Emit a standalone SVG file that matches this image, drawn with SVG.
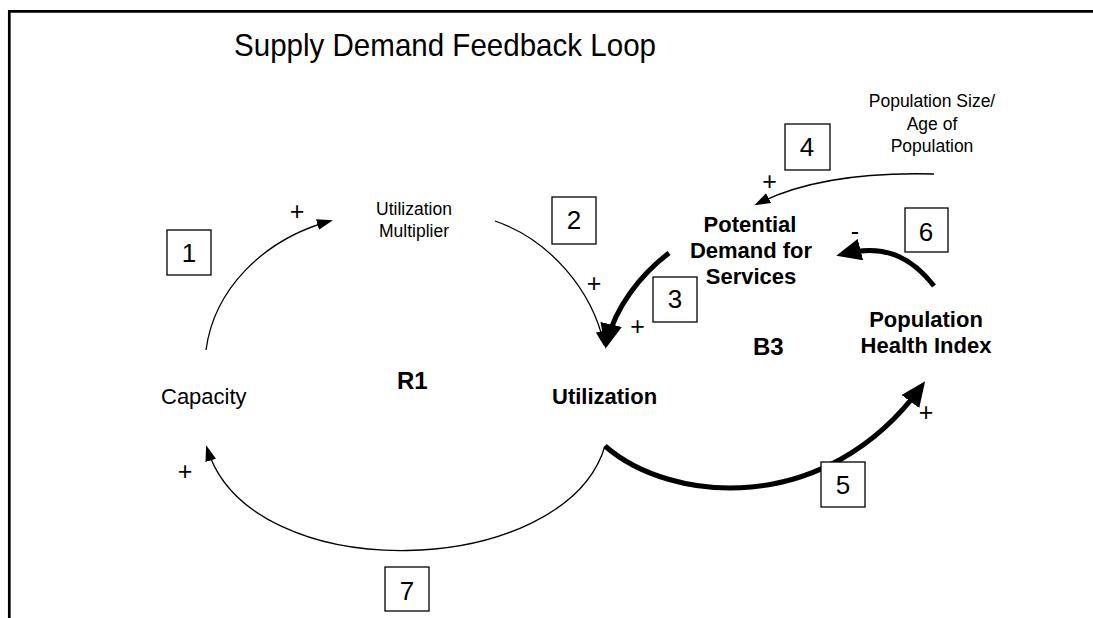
<svg xmlns="http://www.w3.org/2000/svg" width="1093" height="618" viewBox="0 0 1093 618">
<defs>
<style>
text{font-family:"Liberation Sans",Arial,sans-serif;fill:#000}
.lbl{font-size:17.5px;text-anchor:middle}
.cap{font-size:22px}
.bold{font-size:22px;font-weight:bold}
.big{font-size:24px;font-weight:bold}
.num{font-size:26px;text-anchor:middle}
.sign{font-size:25px;text-anchor:middle}
.box{fill:#fff;stroke:#000;stroke-width:1.3}
.thin{fill:none;stroke:#000;stroke-width:1.3;marker-end:url(#hs)}
.thick{fill:none;stroke:#000;stroke-width:5;marker-end:url(#hl)}
</style>
<marker id="hs" markerUnits="userSpaceOnUse" markerWidth="16" markerHeight="12" refX="13" refY="5.5" orient="auto" viewBox="0 0 16 11">
<path d="M0,0 L16,5.5 L0,11 z" fill="#000"/>
</marker>
<marker id="hl" markerUnits="userSpaceOnUse" markerWidth="25" markerHeight="22" refX="18" refY="11" orient="auto" viewBox="0 0 25 22">
<path d="M0,0 L25,11 L0,22 z" fill="#000"/>
</marker>
</defs>
<rect width="1093" height="618" fill="#fff"/>
<g id="frame">
<path d="M9.3,618 V11.3 H1093" fill="none" stroke="#000" stroke-width="2.7"/>
</g>
<g id="title"><text x="234" y="56" font-size="32" textLength="422" lengthAdjust="spacingAndGlyphs">Supply Demand Feedback Loop</text></g>

<g id="connectors">
<path id="c1" class="thin" d="M206,350 C214,290 262,240 330,221"/>
<path id="c2" class="thin" d="M495,221 C550,240 592,290 604,344"/>
<path id="c3" class="thick" d="M669,253 C640,275 615,308 607,342"/>
<path id="c4" class="thin" d="M934,174 C860,172 800,182 757,204"/>
<path id="c6" class="thick" d="M934,286 C910,255 882,244 843,254"/>
<path id="c5" class="thick" d="M605,446 C670,503 825,518 921,387"/>
<path id="c7" class="thin" d="M605,446 C565,580 250,590 207,448"/>
</g>

<g id="node-utilization-multiplier">
<text class="lbl" x="414" y="215">Utilization</text>
<text class="lbl" x="414" y="237">Multiplier</text>
</g>
<g id="node-capacity"><text class="cap" x="161" y="404">Capacity</text></g>
<g id="node-utilization"><text class="bold" x="552" y="404">Utilization</text></g>
<g id="node-potential-demand">
<text class="bold" x="750" y="232" text-anchor="middle">Potential</text>
<text class="bold" x="751" y="258" text-anchor="middle">Demand for</text>
<text class="bold" x="751" y="284" text-anchor="middle">Services</text>
</g>
<g id="node-population-health">
<text class="bold" x="926" y="327" text-anchor="middle">Population</text>
<text class="bold" x="926" y="353" text-anchor="middle">Health Index</text>
</g>
<g id="node-population-size">
<text class="lbl" x="932" y="107">Population Size/</text>
<text class="lbl" x="932" y="130">Age of</text>
<text class="lbl" x="932" y="152">Population</text>
</g>
<g id="loop-r1"><text class="big" x="397" y="389">R1</text></g>
<g id="loop-b3"><text class="big" x="753" y="355">B3</text></g>

<g id="signs">
<text class="sign" x="297" y="220">+</text>
<text class="sign" x="594" y="292">+</text>
<text class="sign" x="637.5" y="335">+</text>
<text class="sign" x="769.5" y="190">+</text>
<text class="sign" x="926" y="421">+</text>
<text class="sign" x="185" y="480">+</text>
<text class="sign" x="855" y="240">-</text>
</g>

<g id="box1"><rect class="box" x="167" y="230" width="44" height="45"/><text class="num" x="189" y="262">1</text></g>
<g id="box2"><rect class="box" x="552" y="197" width="44" height="47"/><text class="num" x="574" y="229">2</text></g>
<g id="box3"><rect class="box" x="653" y="277" width="44" height="45"/><text class="num" x="675" y="308">3</text></g>
<g id="box4"><rect class="box" x="785" y="124" width="45" height="46"/><text class="num" x="807" y="156">4</text></g>
<g id="box5"><rect class="box" x="821" y="462" width="44" height="45"/><text class="num" x="843" y="494">5</text></g>
<g id="box6"><rect class="box" x="905" y="208" width="43" height="44"/><text class="num" x="926" y="241">6</text></g>
<g id="box7"><rect class="box" x="385" y="567" width="44" height="44"/><text class="num" x="407" y="600">7</text></g>
</svg>
